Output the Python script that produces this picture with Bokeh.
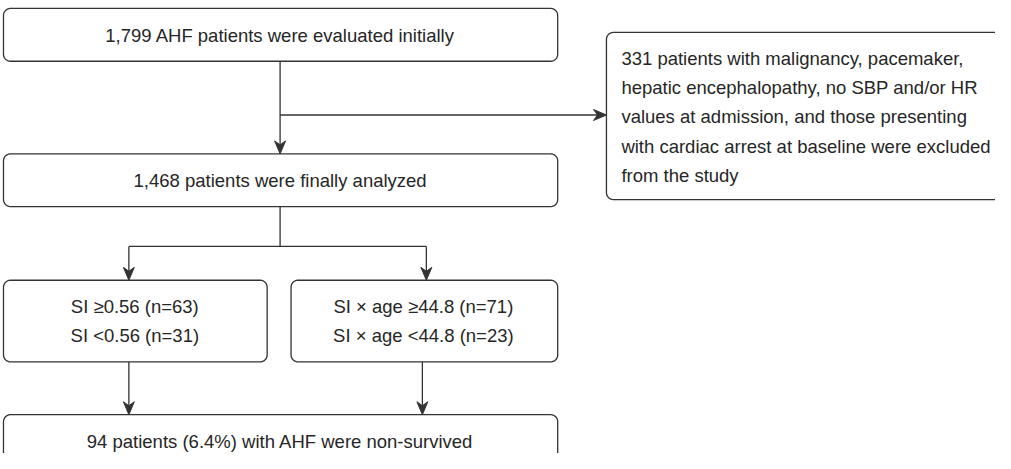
import numpy as np
from bokeh.plotting import figure
from bokeh.models import Range1d
from bokeh.core.properties import value
from bokeh.embed import file_html
from bokeh.resources import INLINE

# ---- content ----
top_label = ["1,799 AHF patients were evaluated initially"]
excluded_lines = [
    "331 patients with malignancy, pacemaker,",
    "hepatic encephalopathy, no SBP and/or HR",
    "values at admission, and those presenting",
    "with cardiac arrest at baseline were excluded",
    "from the study",
]
analyzed_label = ["1,468 patients were finally analyzed"]
si_lines = ["SI \u22650.56 (n=63)", "SI <0.56 (n=31)"]
siage_lines = ["SI \u00d7 age \u226544.8 (n=71)", "SI \u00d7 age <44.8 (n=23)"]
outcome_label = ["94 patients (6.4%) with AHF were non-survived"]

LINE = "#333333"
TEXT = "#262626"
FONT = value("Liberation Sans")
FS = "18.5px"

W, H = 995, 453
p = figure(width=W, height=H, output_backend="svg", toolbar_location=None,
           x_range=Range1d(6, 1006), y_range=Range1d(461, 6),
           min_border=0, outline_line_color=None)
p.axis.visible = False
p.grid.visible = False
p.background_fill_color = "white"


def rbox(x0, y0, x1, y1, r=7):
    xs, ys = [], []
    corners = [(x1 - r, y0 + r, -90, 0), (x1 - r, y1 - r, 0, 90),
               (x0 + r, y1 - r, 90, 180), (x0 + r, y0 + r, 180, 270)]
    for cx, cy, a0, a1 in corners:
        t = np.radians(np.linspace(a0, a1, 8))
        xs.extend(cx + r * np.cos(t))
        ys.extend(cy + r * np.sin(t))
    xs.append(xs[0]); ys.append(ys[0])
    p.patch(xs, ys, fill_color="white", line_color=LINE, line_width=1.3)


def arrow_head(x, y, direction):
    L, Wd, notch = 13, 5.5, 4
    if direction == "down":
        xs = [x, x - Wd, x, x + Wd]
        ys = [y, y - L, y - L + notch, y - L]
    else:  # right
        xs = [x, x - L, x - L + notch, x - L]
        ys = [y, y - Wd, y, y + Wd]
    p.patch(xs, ys, fill_color=LINE, line_color=LINE, line_width=1)


def seg(xs, ys):
    p.line(xs, ys, line_color=LINE, line_width=1.3)


# boxes
rbox(9, 14, 566, 67)
rbox(615, 38, 1040, 206)
rbox(9, 160, 566, 213)
rbox(9, 287, 274, 369)
rbox(298, 287, 566, 369)
rbox(9, 422, 566, 500)

# connectors
seg([287, 287], [67, 156])
arrow_head(287, 160, "down")
seg([287, 611], [121, 121])
arrow_head(615, 121, "right")
seg([287, 287], [213, 253])
seg([135, 434], [253, 253])
seg([135, 135], [253, 283])
seg([434, 434], [253, 283])
arrow_head(135, 287, "down")
arrow_head(434, 287, "down")
seg([135, 135], [369, 418])
seg([430, 430], [369, 418])
arrow_head(135, 422, "down")
arrow_head(430, 422, "down")

# texts
def txt(x, y, labels, align="center"):
    p.text(x=x, y=y, text=labels, text_font=FONT, text_font_size=FS,
           text_color=TEXT, text_align=align, text_baseline="middle")

txt([287], [41], top_label)
txt([630] * 5, [64, 93.5, 123, 152.5, 182], excluded_lines, align="left")
txt([287], [187], analyzed_label)
txt([141, 141], [313, 342], si_lines)
txt([431, 431], [313, 342], siage_lines)
txt([287], [449], outcome_label)

open("out.html", "w").write(file_html(p, INLINE))
